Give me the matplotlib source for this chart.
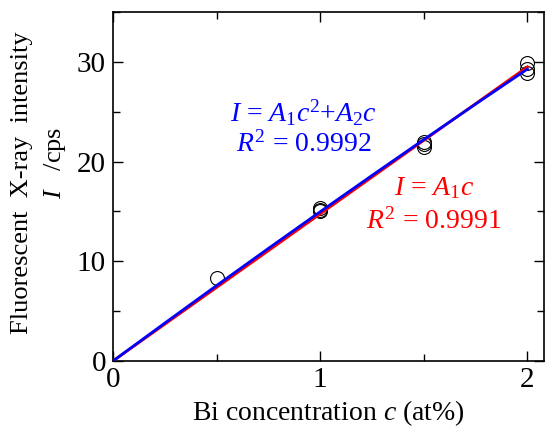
import matplotlib
matplotlib.use("Agg")
import matplotlib.pyplot as plt
import numpy as np
from matplotlib.ticker import MultipleLocator

plt.rcParams['font.family'] = ['Liberation Serif', 'DejaVu Serif']
plt.rcParams['mathtext.fontset'] = 'custom'
plt.rcParams['mathtext.rm'] = 'Liberation Serif'
plt.rcParams['mathtext.it'] = 'Liberation Serif:italic'

# data
conc = [0.5, 1.0, 1.0, 1.0, 1.5, 1.5, 1.5, 2.0, 2.0, 2.0]
intensity = [8.3, 15.3, 15.0, 15.1, 22.0, 21.5, 21.8, 29.9, 28.9, 29.3]

# fit coefficients
lin_A1 = 14.75
quad_A1 = -0.33
quad_A2 = 15.3
fit_c = [0.0, 0.25, 0.5, 0.75, 1.0, 1.25, 1.5, 1.75, 2.0]

fig = plt.figure(figsize=(5.45, 4.32), dpi=100)
ax = fig.add_axes([113/545, 1-361/432, (544-113)/545, (361-12)/432])

ax.plot(conc, intensity, 'o', mfc='none', mec='black', ms=10, mew=0.8, zorder=2)
fc = np.array(fit_c)
ax.plot(fc, lin_A1*fc, color='red', lw=2, zorder=3)
ax.plot(fc, quad_A1*fc**2 + quad_A2*fc, color='blue', lw=2, zorder=4)

ax.set_xlim(0, 2.08)
ax.set_ylim(0, 35)
ax.xaxis.set_major_locator(MultipleLocator(1))
ax.xaxis.set_minor_locator(MultipleLocator(0.5))
ax.yaxis.set_major_locator(MultipleLocator(10))
ax.yaxis.set_minor_locator(MultipleLocator(5))
ax.tick_params(which='both', direction='in', top=True, right=True, labelsize=21,
               width=1)
ax.tick_params(which='major', length=7, pad=5)
ax.tick_params(which='minor', length=5)
ax.tick_params(axis='x', pad=4)
for s in ax.spines.values():
    s.set_linewidth(1.2)

ax.set_xlabel(r'Bi concentration $c$ (at%)', fontsize=20, labelpad=4)
fig.text(22/545, 1-183/432, 'Fluorescent  X-ray  intensity', rotation=90,
         ha='center', va='center', fontsize=19)
fig.text(55/545, 1-163/432, r'$I$   /cps', rotation=90,
         ha='center', va='center', fontsize=19)

ax.text(0.92, 24.9, r'$I$ = $A_1c^2$+$A_2c$', color='blue', fontsize=20,
        ha='center', va='center')
ax.text(0.92, 21.7, r'$R^2$ = 0.9992', color='blue', fontsize=20,
        ha='center', va='center')
ax.text(1.55, 17.3, r'$I$ = $A_1c$', color='red', fontsize=20,
        ha='center', va='center')
ax.text(1.55, 14.0, r'$R^2$ = 0.9991', color='red', fontsize=20,
        ha='center', va='center')

fig.savefig('out.png', dpi=100)
